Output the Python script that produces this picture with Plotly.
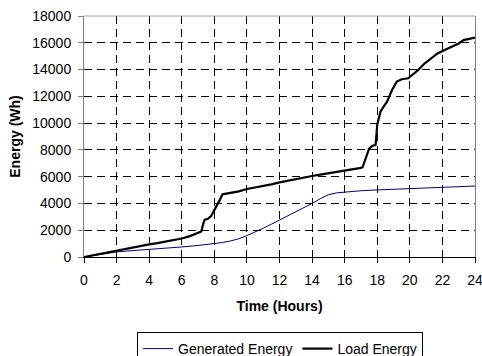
import plotly.graph_objects as go

# Generated energy (Wh) vs time (hours)
gen_t = [0, 1, 2, 3, 4, 5, 6, 7, 8, 8.5, 9, 9.5, 10, 10.5, 11, 11.5, 12, 12.5, 13, 13.5, 14, 14.5,
         15, 15.5, 16, 17, 18, 19, 20, 21, 22, 23, 24]
gen_e = [0, 200, 380, 480, 560, 650, 750, 860, 990, 1080, 1200, 1360, 1600, 1850, 2150, 2450, 2750,
         3050, 3370, 3680, 4000, 4350, 4650, 4790, 4860, 4950, 5010, 5050, 5090, 5140, 5200, 5250, 5300]

# Load energy (Wh) vs time (hours)
load_t = [0, 0.5, 1, 1.5, 2, 2.5, 3, 3.5, 4, 4.5, 5, 5.5, 6, 6.5, 7, 7.2, 7.3, 7.4, 7.6, 7.8, 8.0,
          8.2, 8.35, 8.5, 9, 9.5, 10, 10.5, 11, 11.5, 12, 12.5, 13, 13.5, 14, 14.5, 15, 15.5, 16,
          16.5, 17.0, 17.1, 17.25, 17.5, 17.7, 17.9, 18.0, 18.2, 18.4, 18.6, 18.9, 19.2, 19.5,
          19.9, 20.2, 20.5, 20.9, 21.3, 21.7, 22.2, 22.7, 23.0, 23.3, 23.7, 24]
load_e = [0, 120, 250, 380, 500, 610, 720, 830, 940, 1040, 1150, 1260, 1380, 1560, 1780, 1900,
          2400, 2780, 2850, 3050, 3500, 3900, 4300, 4680, 4780, 4900, 5080, 5180, 5300, 5430,
          5570, 5700, 5820, 5940, 6050, 6150, 6250, 6330, 6420, 6520, 6650, 6700, 7250, 8100,
          8300, 8370, 9900, 10850, 11250, 11600, 12450, 13100, 13280, 13350, 13650, 13950,
          14450, 14800, 15200, 15500, 15770, 15950, 16200, 16300, 16380]

x_ticks = [0, 2, 4, 6, 8, 10, 12, 14, 16, 18, 20, 22, 24]
y_ticks = [0, 2000, 4000, 6000, 8000, 10000, 12000, 14000, 16000, 18000]

font_family = "Liberation Sans, Arial, sans-serif"

W, H = 482, 356

fig = go.Figure()
fig.add_trace(go.Scatter(x=gen_t, y=gen_e, mode="lines", name="Generated Energy",
                         line=dict(color="#000080", width=1)))
fig.add_trace(go.Scatter(x=load_t, y=load_e, mode="lines", name="Load Energy",
                         line=dict(color="#000000", width=2.2)))

fig.update_layout(
    width=W, height=H,
    margin=dict(l=84, r=7, t=16, b=99),
    paper_bgcolor="white", plot_bgcolor="white",
    font=dict(family=font_family, size=14, color="black"),
    showlegend=True,
    legend=dict(orientation="h", xref="container", yref="container",
                x=137 / W, y=1 - 332 / H, xanchor="left", yanchor="top",
                bordercolor="black", borderwidth=1, font=dict(size=14),
                itemwidth=30, tracegroupgap=0, bgcolor="white"),
    xaxis=dict(range=[0, 24], tickvals=x_ticks, ticktext=[str(v) for v in x_ticks],
               showgrid=True, gridcolor="black", griddash="8px,5px", gridwidth=1,
               showline=True, linecolor="black", linewidth=1,
               ticks="outside", ticklen=5, tickcolor="black",
               zeroline=False, automargin=False, ticklabeloverflow="allow",
               ticklabelstandoff=5,
               title=dict(text="<b>Time (Hours)</b>", font=dict(size=14), standoff=14)),
    yaxis=dict(range=[0, 18000], tickvals=y_ticks, ticktext=[str(v) for v in y_ticks],
               showgrid=True, gridcolor="black", griddash="8px,5px", gridwidth=1,
               showline=True, linecolor="#808080", linewidth=1, mirror=True,
               ticks="outside", ticklen=5, tickcolor="#808080",
               zeroline=False, automargin=False, ticklabeloverflow="allow",
               ticklabelstandoff=4,
               title=dict(text="<b>Energy (Wh)</b>", font=dict(size=14), standoff=8)),
)
fig.add_shape(type="line", xref="paper", yref="paper", x0=0, x1=1, y0=1, y1=1,
              line=dict(color="#a0a0a0", width=1))

fig.write_html("out.html",
               config={"displayModeBar": False},
               post_script="document.body.style.margin='0px';"
                           "document.body.style.overflow='hidden';")
